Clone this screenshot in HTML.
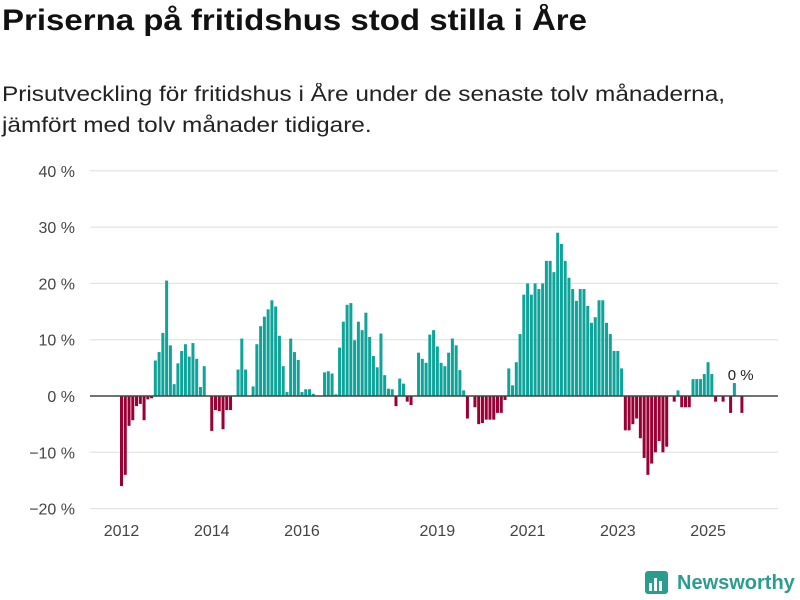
<!DOCTYPE html>
<html><head><meta charset="utf-8">
<style>
body{margin:0;background:#fff;width:800px;height:600px;overflow:hidden;font-family:"Liberation Sans","DejaVu Sans",sans-serif;color:#111}
#title{position:absolute;left:2px;top:4px;font-size:30px;font-weight:bold;margin:0;transform:scaleX(1.1);transform-origin:left top;white-space:nowrap}
#sub{position:absolute;left:2px;top:79px;font-size:21px;line-height:31px;color:#222;transform:scaleX(1.16);transform-origin:left top;white-space:nowrap}
svg{position:absolute;left:0;top:0}
</style></head><body>
<h1 id="title">Priserna på fritidshus stod stilla i Åre</h1>
<div id="sub">Prisutveckling för fritidshus i Åre under de senaste tolv månaderna,<br>jämfört med tolv månader tidigare.</div>
<svg id="chart" width="800" height="600"></svg>
<script>
const yTicks=[40,30,20,10,0,-10,-20];
const yTickLabels=["40 %","30 %","20 %","10 %","0 %","−10 %","−20 %"];
const xTickYears=[2012,2014,2016,2019,2021,2023,2025];
const startYear=2012;
const values=[-16,-14,-5.3,-4.3,-1.8,-1.4,-4.3,-0.6,-0.4,6.3,7.8,11.2,20.5,9,2.1,5.8,8,9.2,7,9.4,6.6,1.6,5.3,0,-6.2,-2.5,-2.7,-5.9,-2.5,-2.5,0,4.7,10.2,4.7,0,1.7,9.2,12.4,14.1,15.4,17,15.9,10.7,5.3,0.7,10.2,7.8,6.4,0.7,1.2,1.2,0.4,
0,0,4.2,4.4,4.0,0.3,8.6,13.2,16.2,16.5,9.9,13.2,11.7,14.8,10.5,7.1,5.1,11.1,3.7,1.3,1.2,-1.8,3.1,2.2,-1,-1.6,0,7.7,6.6,5.9,10.9,11.7,8.8,5.9,5.3,7.7,10.2,9.0,4.6,1.0,-4,0,-2,-5,-4.8,-4.2,-4.2,-4.2,-3,-3,-0.7,4.9,1.9,6,11,18,20,18,20,19,20,24,24,22,29,27,24,21,19,16.9,19,19,16,13,14,17,17,13,11,8,8,4.9,-6.1,-6.1,-5,-4,-7.5,-11,-14,-12,-10,-8,-10,-9,0,-1,1,-2,-2,-2,3,3,3,3.9,6,3.9,-1,0,-1,0,-3,2.3,0,-3];
const lastLabel="0 %";
const svg=document.getElementById('chart');
const NS="http://www.w3.org/2000/svg";
const y=v=>396-v*5.63;
const x=i=>120+i*3.76;
function mk(t,a){const e=document.createElementNS(NS,t);for(const k in a)e.setAttribute(k,a[k]);svg.appendChild(e);return e;}
yTicks.forEach((t,k)=>{
  if(t!==0){const g=mk('line',{x1:90,x2:778,y1:y(t),y2:y(t),stroke:'#dddddd','stroke-width':1});
  
  }
  const l=mk('text',{x:75,y:y(t)+6,'text-anchor':'end','font-size':16,fill:'#444'});
  l.textContent=yTickLabels[k];
  
  
});
values.forEach((v,i)=>{
  if(v===0)return;
  const top=v>0?y(v):y(0), h=Math.abs(y(v)-y(0));
  const r=mk('rect',{x:x(i),y:top,width:3,height:h,fill:v>0?'#0fa39a':'#990033'});
  
  
});
const z=mk('line',{x1:90,x2:778,y1:y(0),y2:y(0),stroke:'#444','stroke-width':1.5});


xTickYears.forEach(yr=>{
  const i=(yr-startYear)*12;
  const t=mk('text',{x:x(i)+1.5,y:536,'text-anchor':'middle','font-size':16,fill:'#444'});
  t.textContent=yr;
  
  
});
const ll=mk('text',{x:x(values.length-2)+4,y:380,'text-anchor':'middle','font-size':15,fill:'#222'});
ll.textContent=lastLabel;


</script>
<svg width="800" height="600" style="pointer-events:none">
<rect x="645" y="571" width="23" height="23" rx="3" fill="#2a9d8f"/>
<rect x="649" y="583" width="3" height="8" fill="#fff"/><rect x="654" y="578" width="3" height="13" fill="#fff"/><rect x="659" y="581" width="3" height="10" fill="#fff"/>
<text x="677" y="589" font-size="20" font-weight="bold" fill="#2a9d8f" font-family="Liberation Sans, sans-serif">Newsworthy</text>
</svg>
</body></html>
